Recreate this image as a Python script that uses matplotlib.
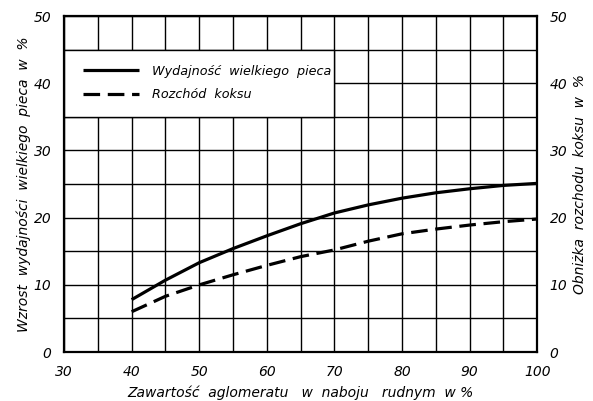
import numpy as np
import matplotlib
matplotlib.use('Agg')
import matplotlib.pyplot as plt
from matplotlib.patches import Rectangle

# wzrost wydajnosci wielkiego pieca / obnizka rozchodu koksu
x = [40, 45, 50, 55, 60, 65, 70, 75, 80, 85, 90, 95, 100]
wydajnosc = [7.8, 10.7, 13.3, 15.4, 17.3, 19.1, 20.7, 21.9, 22.9, 23.7, 24.3, 24.8, 25.1]
koks = [6.0, 8.3, 10.0, 11.5, 12.9, 14.2, 15.2, 16.5, 17.6, 18.3, 18.9, 19.4, 19.8]

xticks = [30, 40, 50, 60, 70, 80, 90, 100]
yticks = [0, 10, 20, 30, 40, 50]

plt.rcParams['font.family'] = 'DejaVu Sans'
plt.rcParams['font.style'] = 'italic'

fig = plt.figure(figsize=(5.93, 4.01), dpi=100)
ax = fig.add_axes([0.108, 0.122, 0.798, 0.838])

ax.set_xlim(30, 100)
ax.set_ylim(0, 50)
ax.set_xticks(np.arange(30, 101, 5), minor=True)
ax.set_yticks(np.arange(0, 51, 5), minor=True)
ax.set_xticks(xticks)
ax.set_yticks(yticks)
ax.grid(True, which='both', color='black', lw=1.0, zorder=1)
ax.set_axisbelow(True)
ax.tick_params(which='both', length=0, labelsize=10, pad=9)
for s in ax.spines.values():
    s.set_linewidth(1.6)

# ramka legendy zakrywa siatke
ax.add_patch(Rectangle((30, 35), 40, 10, facecolor='white', edgecolor='black',
                       lw=1.0, zorder=1.5))

ax.plot(x, wydajnosc, color='black', lw=2.3, solid_capstyle='butt', zorder=3,
        label='Wydajność  wielkiego  pieca')
ax.plot(x, koks, color='black', lw=2.3, dashes=(5.2, 2.4), zorder=3,
        label='Rozchód  koksu')

ax.legend(loc='upper left', bbox_to_anchor=(0.015, 0.89), frameon=False,
          fontsize=9.2, handlelength=4.4, handletextpad=1.0, labelspacing=0.85)

ax.set_xlabel('Zawartość  aglomeratu   w  naboju   rudnym  w %', fontsize=10, labelpad=5)
ax.set_ylabel('Wzrost  wydajności  wielkiego  pieca  w  %', fontsize=10, labelpad=2)

ax2 = ax.twinx()
ax2.set_ylim(0, 50)
ax2.set_yticks(yticks)
ax2.tick_params(length=0, labelsize=10, pad=9)
for s in ax2.spines.values():
    s.set_visible(False)
ax2.set_ylabel('Obniżka  rozchodu  koksu  w  %', fontsize=10, rotation=90, labelpad=4)

fig.savefig('out.png', dpi=100)
